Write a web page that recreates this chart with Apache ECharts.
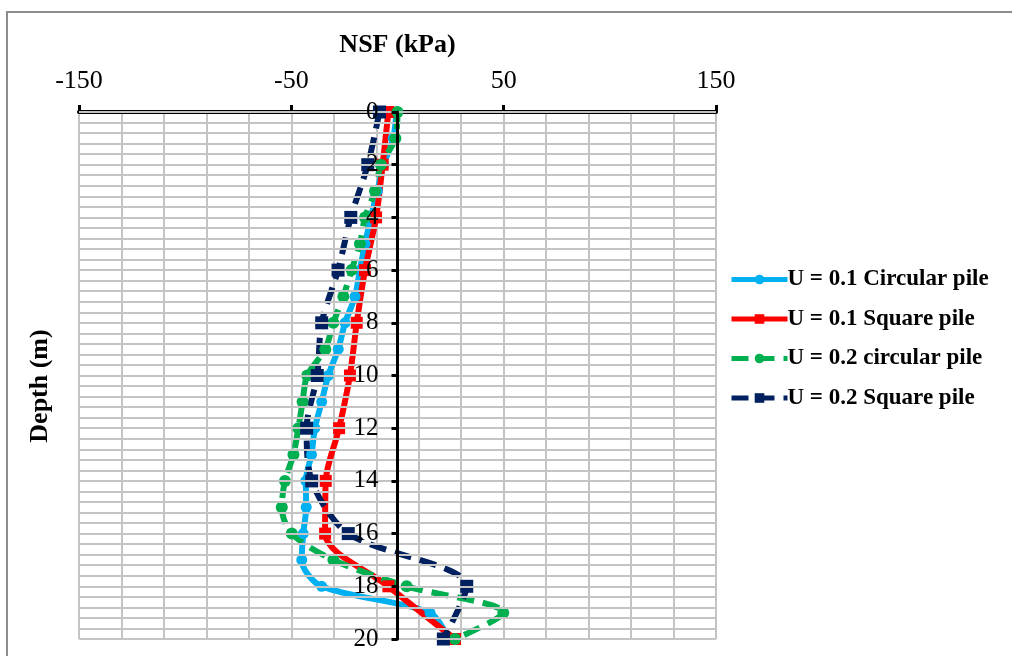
<!DOCTYPE html>
<html>
<head>
<meta charset="utf-8">
<script src="https://cdn.jsdelivr.net/npm/echarts@6/dist/echarts.min.js"></script>
<style>
  html, body { margin: 0; padding: 0; background: #ffffff; }
  #chart { width: 1012px; height: 656px; }
</style>
</head>
<body>
<div id="chart"></div>
<script>
// Depths (m) where each profile was sampled
const depthAll = [0, 1, 2, 3, 4, 5, 6, 7, 8, 9, 10, 11, 12, 13, 14, 15, 16, 17, 18, 19, 20];
const depthEven = [0, 2, 4, 6, 8, 10, 12, 14, 16, 18, 20];

// Negative skin friction, NSF (kPa)
const circularU01 = [-0.5, -2, -6.5, -9.5, -12.5, -15.3, -17.7, -20, -24.7, -27.9, -32.6, -35.7, -38.9, -40.5, -43.2, -43, -44.4, -45.1, -35.7, 15.3, 24];
const squareU01 = [-4.3, -7, -10.1, -15.3, -19.2, -22.4, -27.5, -33.8, -34.1, -4.3, 27.1];
const circularU02 = [0, -1, -7.8, -10.6, -15.3, -17.7, -21.6, -25.5, -30.2, -34, -42.5, -44.7, -46.7, -49, -53, -54.5, -49.8, -30.2, 4.3, 49.8, 27.1];
const squareU02 = [-8.5, -14, -22, -28, -35.7, -37.8, -42.8, -40.4, -23.2, 32.6, 21.6];

const seriesNames = ['U = 0.1 Circular pile', 'U = 0.1 Square pile', 'U = 0.2 circular pile', 'U = 0.2 Square pile'];

const xTitle = 'NSF (kPa)';
const yTitle = 'Depth (m)';

const serif = '"Liberation Serif", "Times New Roman", serif';

// Plot box in pixels; the depth axis sits at NSF = 0
const plotLeft = 79;
const plotWidth = 637;
const xMin = -150;
const xMax = 150;
const zeroOffset = plotWidth * (0 - xMin) / (xMax - xMin);

function pairs(values, depths) {
  return values.map((v, i) => [v, depths[i]]);
}

function lineSeries(name, values, depths, symbol, size, color, dashed) {
  const width = 6;
  return {
    name: name,
    type: 'line',
    smooth: 0.3,
    clip: false,
    data: pairs(values, depths),
    symbol: symbol,
    symbolSize: size,
    showAllSymbol: true,
    lineStyle: { width: width, color: color, type: dashed ? [17, 9] : 'solid' },
    itemStyle: { color: color, borderWidth: 0 },
    emphasis: { disabled: true, lineStyle: { width: width } }
  };
}

const gridLine = { show: true, lineStyle: { color: '#c4c4c4', width: 2 } };

const chart = echarts.init(document.getElementById('chart'), null, { renderer: 'canvas' });

chart.setOption({
  backgroundColor: '#ffffff',
  animation: false,
  grid: { left: plotLeft, top: 112, width: plotWidth, height: 527, containLabel: false },
  graphic: [
    {
      type: 'rect',
      shape: { x: 7, y: 12, width: 1030, height: 700 },
      style: { fill: 'none', stroke: '#8c8c8c', lineWidth: 2 },
      silent: true,
      z: -10
    },
    {
      type: 'text',
      x: 40,
      y: 386,
      rotation: Math.PI / 2,
      style: {
        text: yTitle,
        font: 'bold 26px ' + serif,
        fill: '#000000',
        align: 'center',
        verticalAlign: 'middle'
      }
    }
  ],
  legend: {
    orient: 'vertical',
    left: 724,
    top: 263,
    itemWidth: 56,
    itemHeight: 12,
    itemGap: 16.5,
    data: seriesNames,
    lineStyle: { width: 5 },
    textStyle: { fontFamily: serif, fontWeight: 'bold', fontSize: 23, color: '#000000', padding: [0, 0, 0, -5] }
  },
  xAxis: {
    type: 'value',
    position: 'top',
    min: xMin,
    max: xMax,
    interval: 100,
    name: xTitle,
    nameLocation: 'middle',
    nameGap: 54,
    nameTextStyle: { fontFamily: serif, fontWeight: 'bold', fontSize: 26, color: '#000000' },
    axisLine: { show: true, onZero: false, lineStyle: { color: '#000000', width: 4 } },
    axisTick: { show: true, length: 7, lineStyle: { color: '#000000', width: 3 } },
    axisLabel: { fontFamily: serif, fontSize: 26, color: '#000000', margin: 18 },
    splitLine: gridLine,
    minorTick: { show: false, splitNumber: 5 },
    minorSplitLine: gridLine
  },
  yAxis: {
    type: 'value',
    position: 'left',
    offset: -zeroOffset,
    inverse: true,
    min: 0,
    max: 20,
    interval: 2,
    z: 5,
    axisLine: { show: true, onZero: false, lineStyle: { color: '#000000', width: 3 } },
    axisTick: { show: true, length: 6, lineStyle: { color: '#000000', width: 3 } },
    axisLabel: { fontFamily: serif, fontSize: 25, color: '#000000', margin: 19 },
    splitLine: gridLine,
    minorTick: { show: false, splitNumber: 5 },
    minorSplitLine: gridLine
  },
  series: [
    lineSeries(seriesNames[0], circularU01, depthAll, 'circle', 11, '#00b0f0', false),
    lineSeries(seriesNames[1], squareU01, depthEven, 'rect', 12, '#ff0000', false),
    lineSeries(seriesNames[2], circularU02, depthAll, 'circle', 12, '#00b050', true),
    lineSeries(seriesNames[3], squareU02, depthEven, 'rect', 13, '#002060', true)
  ]
});
</script>
</body>
</html>
